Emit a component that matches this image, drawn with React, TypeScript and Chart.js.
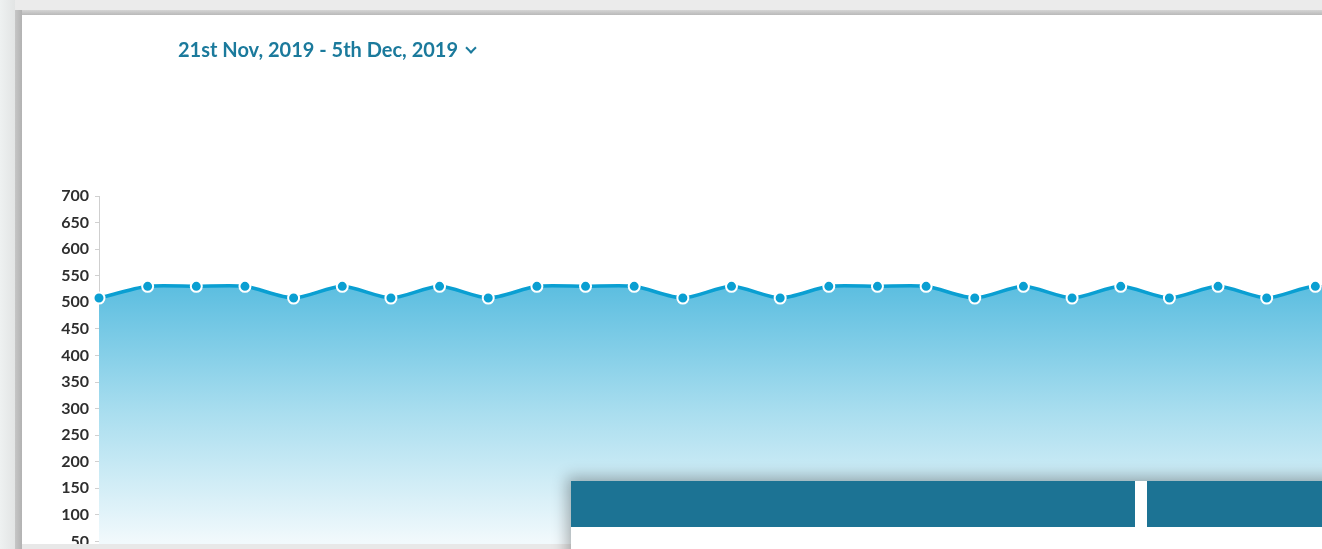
import React, { useEffect, useRef } from "react";
import { Chart, registerables } from "chart.js";

Chart.register(...registerables);

const title = "21st Nov, 2019 - 5th Dec, 2019";

const labels = [
  "1", "2", "3", "4", "5", "6", "7", "8", "9", "10", "11", "12", "13", "14",
  "15", "16", "17", "18", "19", "20", "21", "22", "23", "24", "25", "26", "27",
];

const values = [
  508, 530, 530, 530, 508, 530, 508, 530, 508, 530, 530, 530, 508, 530,
  508, 530, 530, 530, 508, 530, 508, 530, 508, 530, 508, 530, 508,
];

const yMin = 0;
const yMax = 700;
const yStep = 50;

export default function App() {
  const canvasRef = useRef<HTMLCanvasElement | null>(null);

  useEffect(() => {
    const canvas = canvasRef.current;
    if (!canvas) return;
    const chart = new Chart(canvas, {
      type: "line",
      data: {
        labels,
        datasets: [
          {
            data: values,
            borderColor: "#0a9fd2",
            borderWidth: 3.5,
            tension: 0.25,
            fill: "start",
            backgroundColor: (ctx: any) => {
              const c = ctx.chart;
              const area = c.chartArea;
              if (!area) return "rgba(95,192,224,0.8)";
              const ys = c.scales.y;
              const top = ys.getPixelForValue(530);
              const bot = ys.getPixelForValue(50);
              const g = c.ctx.createLinearGradient(0, top, 0, bot);
              g.addColorStop(0, "rgb(92,190,224)");
              g.addColorStop(0.5, "rgb(170,222,239)");
              g.addColorStop(1, "rgb(241,249,252)");
              return g;
            },
            pointRadius: 5.5,
            pointBorderWidth: 2,
            pointBackgroundColor: "#0a9fd2",
            pointBorderColor: "#ffffff",
          },
        ],
      },
      options: {
        animation: false,
        responsive: false,
        maintainAspectRatio: false,
        layout: { padding: { top: 196, bottom: 52, left: 0, right: 36 } },
        plugins: { legend: { display: false }, tooltip: { enabled: false } },
        scales: {
          x: { display: false },
          y: {
            min: yMin,
            max: yMax,
            ticks: {
              stepSize: yStep,
              padding: 6,
              color: "#2e2e2e",
              font: { family: "Lato", size: 16, weight: "bold" },
            },
            grid: {
              drawOnChartArea: false,
              drawTicks: true,
              tickLength: 4,
              color: "#d0d0d0",
            },
            border: { display: true, dash: [2, 2], color: "#cfcfcf" },
            afterFit: (scale: any) => {
              scale.width = 99;
            },
          },
        },
      },
    });
    return () => chart.destroy();
  }, []);

  return (
    <div
      style={{
        position: "fixed",
        left: 0,
        top: 0,
        width: "100vw",
        height: "100vh",
        overflow: "hidden",
        background: "#ffffff",
      }}
    >
      <canvas
        ref={canvasRef}
        width={1400}
        height={620}
        style={{ position: "absolute", left: 0, top: 0, width: 1400, height: 620 }}
      />
      <div
        style={{
          position: "absolute",
          left: 178,
          top: 37,
          fontFamily: "Lato",
          fontWeight: 700,
          fontSize: 20,
          color: "#1b7a9c",
          whiteSpace: "nowrap",
          display: "flex",
          alignItems: "center",
        }}
      >
        {title}
        <span
          style={{
            display: "inline-block",
            width: 6,
            height: 6,
            borderRight: "2px solid #1b7a9c",
            borderBottom: "2px solid #1b7a9c",
            transform: "rotate(45deg)",
            marginLeft: 9,
            marginTop: -3,
          }}
        />
      </div>
      {/* window frame */}
      <div style={{ position: "absolute", left: 0, top: 0, width: "100%", height: 10, background: "#ebebeb" }} />
      <div
        style={{
          position: "absolute",
          left: 0,
          top: 10,
          width: "100%",
          height: 5,
          background: "linear-gradient(#d4d4d4, #b9b9b9)",
        }}
      />
      <div
        style={{
          position: "absolute",
          left: 0,
          top: 0,
          width: 15,
          height: "100%",
          background: "linear-gradient(to right, #eef1f1, #e2e4e4)",
        }}
      />
      <div
        style={{
          position: "absolute",
          left: 15,
          top: 10,
          width: 7,
          height: "100%",
          background: "linear-gradient(to right, #c6c6c6, #b2b2b2)",
        }}
      />
      <div
        style={{
          position: "absolute",
          left: 22,
          top: 544,
          width: 680,
          height: 5,
          background: "linear-gradient(to right, #e8e8e8 80%, rgba(232,232,232,0))",
        }}
      />
      {/* overlapping panel */}
      <div
        style={{
          position: "absolute",
          left: 571,
          top: 481,
          width: 800,
          height: 100,
          background: "#ffffff",
          boxShadow: "-4px -4px 14px rgba(0,0,0,0.3)",
        }}
      />
      <div style={{ position: "absolute", left: 571, top: 481, width: 564, height: 46, background: "#1c7394" }} />
      <div style={{ position: "absolute", left: 1147, top: 481, width: 200, height: 46, background: "#1c7394" }} />
    </div>
  );
}
